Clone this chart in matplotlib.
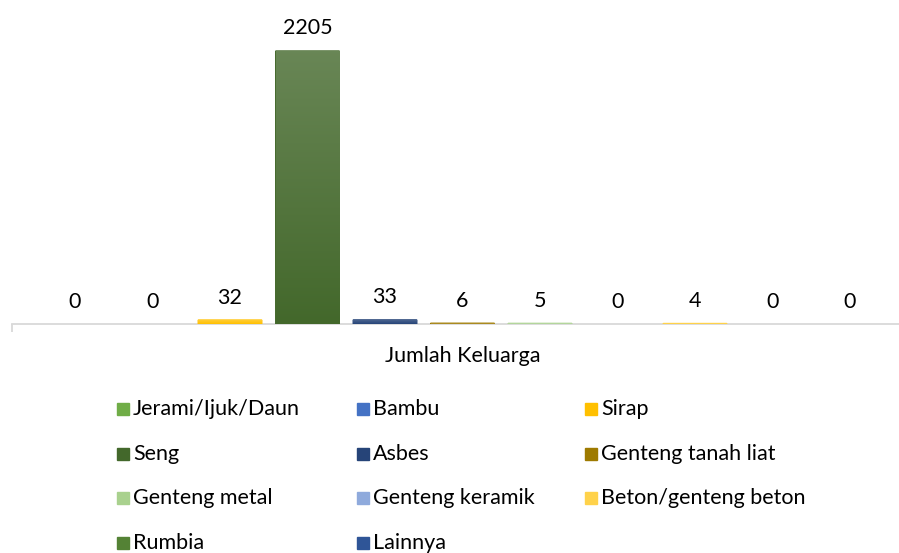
import matplotlib.pyplot as plt
import matplotlib.colors as mcolors
from matplotlib.patches import Rectangle
import numpy as np

plt.rcParams['font.family'] = ['Lato', 'DejaVu Sans']

category = "Jumlah Keluarga"
series = ["Jerami/Ijuk/Daun", "Bambu", "Sirap", "Seng", "Asbes",
          "Genteng tanah liat", "Genteng metal", "Genteng keramik",
          "Beton/genteng beton", "Rumbia", "Lainnya"]
values = [0, 0, 32, 2205, 33, 6, 5, 0, 4, 0, 0]
colors = ["#70AD47", "#4472C4", "#FFC000", "#43682B", "#264478", "#9E7A00",
          "#A9D18E", "#8FAADC", "#FFD24A", "#548235", "#2F5597"]

W, H = 899, 553
fig = plt.figure(figsize=(W / 100, H / 100), dpi=100)

# plot area in pixels: left edge of axis, baseline, top
x0, base, top = 12, 324, 10
ax = fig.add_axes([x0 / W, (H - base) / H, (W - x0) / W, (base - top) / H])

slot = 77.5
first = 75
xmin = (x0 - first) / slot
xmax = (W - first) / slot
ax.set_xlim(xmin, xmax)
ax.set_ylim(0, 2205 * (base - top) / (base - 51))

x = np.arange(len(values))
bw = 0.82
bars = ax.bar(x, values, width=bw, color=colors, zorder=2)
for b, c in zip(bars, colors):
    if b.get_height() > 0:
        b.set_edgecolor(c)
        b.set_linewidth(1.0)
        b.set_snap(False)

# vertical gradient on each bar, lighter at the top
grad = np.linspace(0, 1, 256).reshape(-1, 1)
for b, c in zip(bars, colors):
    if b.get_height() <= 0:
        continue
    rgb = np.array(mcolors.to_rgb(c))
    light = rgb + (1 - rgb) * 0.2
    cmap = mcolors.LinearSegmentedColormap.from_list("g", [rgb, light])
    im = ax.imshow(grad, cmap=cmap, aspect='auto', origin='lower',
                   extent=[b.get_x(), b.get_x() + b.get_width(), 0, b.get_height()],
                   zorder=3)
    im.set_clip_path(b)

for xi, v in zip(x, values):
    ax.annotate(str(v), (xi, v), xytext=(0, 9), textcoords='offset points',
                ha='center', va='bottom', fontsize=15.5, color='#000000')

for s in ['top', 'right', 'left']:
    ax.spines[s].set_visible(False)
ax.spines['bottom'].set_color('#D9D9D9')
ax.spines['bottom'].set_linewidth(1.3)
ax.spines['bottom'].set_zorder(1)
ax.set_yticks([])
ax.set_xticks([xmin])
ax.set_xticklabels([])
ax.tick_params(axis='x', length=6, width=1.3, color='#D9D9D9')

fig.text(463 / W, 1 - 356 / H, category, ha='center', va='center',
         fontsize=15.5, color='#000000')

# legend laid out row by row, three columns
col_x = [117, 357, 585]
row_y = [409, 454, 498, 543]
sq = 12
for i, (name, c) in enumerate(zip(series, colors)):
    cx = col_x[i % 3]
    cy = row_y[i // 3]
    fig.patches.append(Rectangle((cx / W, 1 - (cy + sq / 2) / H), sq / W, sq / H,
                                 transform=fig.transFigure, color=c))
    fig.text((cx + sq + 4) / W, 1 - cy / H, name, ha='left', va='center',
             fontsize=15.5, color='#000000')

fig.savefig("out.png", dpi=100)
